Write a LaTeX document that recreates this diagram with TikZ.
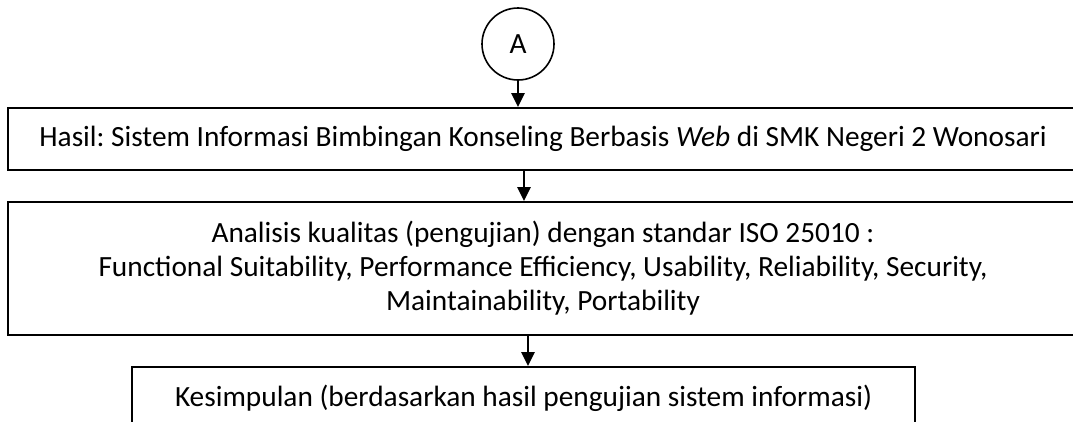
\documentclass[tikz,border=0pt]{standalone}
\usepackage{fontspec}
\setmainfont{Carlito}
\usetikzlibrary{positioning, arrows.meta, shapes}
\frenchspacing

\begin{document}
\begin{tikzpicture}[x=0.75pt, y=-0.75pt, font=\fontsize{22}{25.5}\selectfont,
  box/.style={draw, line width=1.5pt, align=center, inner sep=0pt},
  conn/.style={circle, draw, line width=1.2pt, minimum size=54pt, inner sep=0pt},
  arr/.style={-{Triangle[length=10.5pt, width=10pt]}, line width=1.5pt}]
\useasboundingbox (0,0) rectangle (1073,421);
\clip (0,0) rectangle (1073,421);
\node[conn] (conA) at (518,44) {A};
\node[box, minimum width=802.5pt, minimum height=46.5pt] (hasil) at (543,139)
  {Hasil: Sistem Informasi Bimbingan Konseling Berbasis \textit{Web} di SMK Negeri 2 Wonosari};
\node[box, below=22.5pt of hasil, minimum width=802.5pt, minimum height=99.75pt] (analisis)
  {Analisis kualitas (pengujian) dengan standar ISO 25010 :\\
   Functional Suitability, Performance Efficiency, Usability, Reliability, Security,\\
   Maintainability, Portability};
\node[box, below=22.5pt of analisis, xshift=-14.6pt, minimum width=587.25pt,
  text height=29.25pt, text depth=30pt] (simpul)
  {Kesimpulan (berdasarkan hasil pengujian sistem informasi)};

\draw[arr] (conA.south) -- (conA |- hasil.north);
\draw[arr] ([xshift=-14.25pt]hasil.south) -- ([xshift=-14.25pt]analisis.north);
\draw[arr] ([xshift=-11.25pt]analisis.south) -- ([xshift=-11.25pt]analisis.south |- simpul.north);
\end{tikzpicture}
\end{document}
